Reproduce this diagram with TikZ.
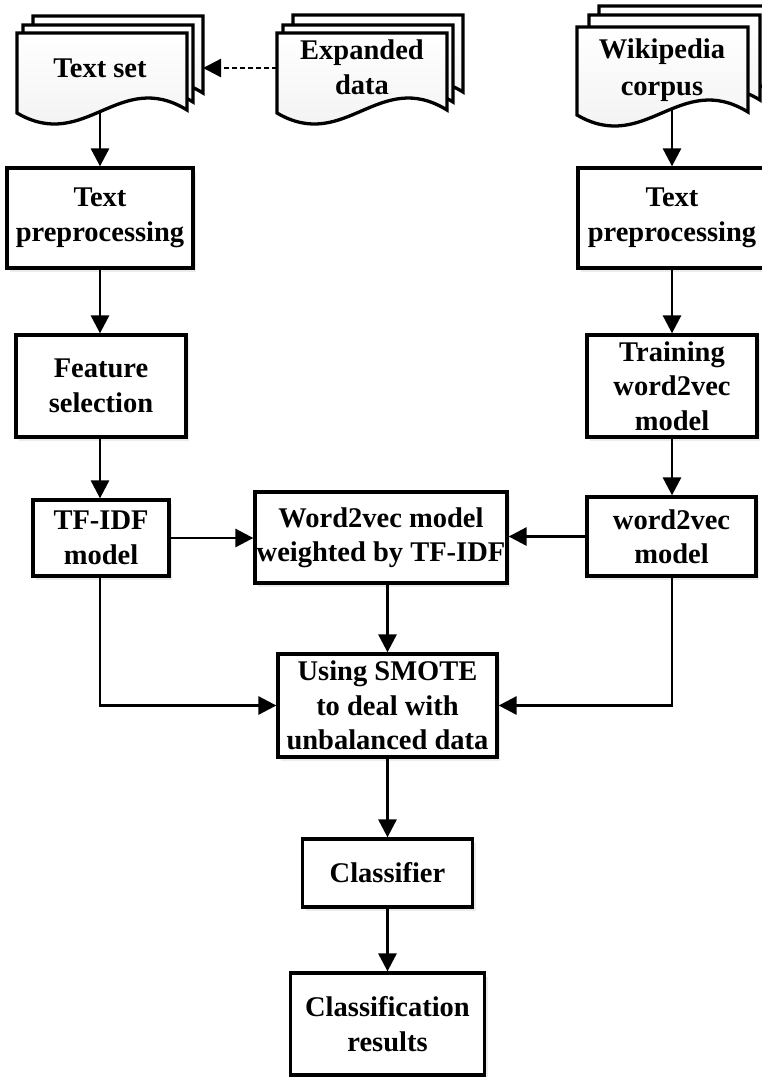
\documentclass[tikz,border=0pt]{standalone}
\usepackage{fontspec}
\setmainfont{Liberation Serif}
\usetikzlibrary{arrows.meta,shadows}
\tikzset{
  lbl/.style={font=\bfseries\fontsize{28.5}{34.5}\selectfont},
  box/.style={lbl, draw, line width=3.3pt, fill=white, align=center, inner sep=0pt,
    drop shadow={opacity=0.15, shadow xshift=3pt, shadow yshift=-4pt}},
  doctext/.style={lbl, align=center, inner sep=0pt},
  docsty/.style={draw, line width=3.3pt, top color=white, bottom color=gray!12, line join=miter},
  arr/.style={line width=2.9pt, -{Triangle[length=18pt,width=18pt]}},
  darr/.style={line width=2.4pt, dash pattern=on 5pt off 3pt, -{Triangle[length=18pt,width=18pt]}},
}
\newcommand\docsheet[4]{%
  \begin{scope}[shift={(#1,#2)}]
    \draw[docsty] (0,0) -- (#3,0) -- (#3,#4-3)
      .. controls (0.6*#3,#4-45) and (0.4*#3,#4+40) .. (0,#4) -- cycle;
  \end{scope}}
\begin{document}
\begin{tikzpicture}[x=1pt,y=-1pt]
\useasboundingbox (0,0) rectangle (762,1077);

% document stacks
\docsheet{33}{16}{170}{80}
\docsheet{23}{25}{170}{80}
\docsheet{17}{33}{170}{80}
\docsheet{293}{15}{170}{80}
\docsheet{283}{25}{170}{80}
\docsheet{277}{33}{170}{80}
\docsheet{599}{6}{171}{88}
\docsheet{589}{15}{171}{88}
\docsheet{577}{27}{171}{88}

\node[doctext] (textset) at (100,68) {Text set};
\node[doctext] (expanded) at (362,67) {Expanded\\data};
\node[doctext, font=\bfseries\fontsize{28.5}{37}\selectfont] (wiki) at (662,70) {Wikipedia\\corpus};

\coordinate (textsetb) at (100,111);
\coordinate (textsetr) at (203,68);
\coordinate (expl) at (277,68);
\coordinate (wikib) at (672,109);

% boxes
\node[box, minimum width=186pt, minimum height=100pt] (tpl) at (100,218) {Text\\preprocessing};
\node[box, minimum width=170pt, minimum height=102pt] (fs) at (101,386) {Feature\\selection};
\node[box, minimum width=136pt, minimum height=76pt] (tfidf) at (101,538) {TF-IDF\\model};
\node[box, minimum width=252pt, minimum height=91pt] (w2vw) at (381,537.5) {Word2vec model\\weighted by TF-IDF};
\node[box, minimum width=188pt, minimum height=100pt] (tpr) at (672,218) {Text\\preprocessing};
\node[box, minimum width=170pt, minimum height=102pt] (train) at (672,386) {Training\\word2vec\\model};
\node[box, minimum width=169pt, minimum height=79pt] (w2vm) at (671.5,536.5) {word2vec\\model};
\node[box, minimum width=219pt, minimum height=103pt] (smote) at (387.5,705.5) {Using SMOTE\\to deal with\\unbalanced data};
\node[box, minimum width=170pt, minimum height=68pt] (clf) at (387.5,873) {Classifier};
\node[box, minimum width=194pt, minimum height=102pt] (res) at (387.5,1024) {Classification\\results};

% connectors
\draw[darr] (expl) -- (textsetr);
\draw[arr] (textsetb) -- (textsetb |- tpl.north);
\draw[arr] (textsetb |- tpl.south) -- (textsetb |- fs.north);
\draw[arr] (textsetb |- fs.south) -- (textsetb |- tfidf.north);
\draw[arr] (wikib) -- (wikib |- tpr.north);
\draw[arr] (wikib |- tpr.south) -- (wikib |- train.north);
\draw[arr] (wikib |- train.south) -- (wikib |- w2vm.north);
\draw[arr] (tfidf.east) -- (w2vw.west |- tfidf.east);
\draw[arr] (w2vm.west) -- (w2vw.east |- w2vm.west);
\draw[arr] (smote.north |- w2vw.south) -- (smote.north);
\draw[arr] (textsetb |- tfidf.south) |- (smote.west);
\draw[arr] (wikib |- w2vm.south) |- (smote.east);
\draw[arr] (smote.south) -- (clf.north);
\draw[arr] (clf.south) -- (res.north);
\end{tikzpicture}
\end{document}
